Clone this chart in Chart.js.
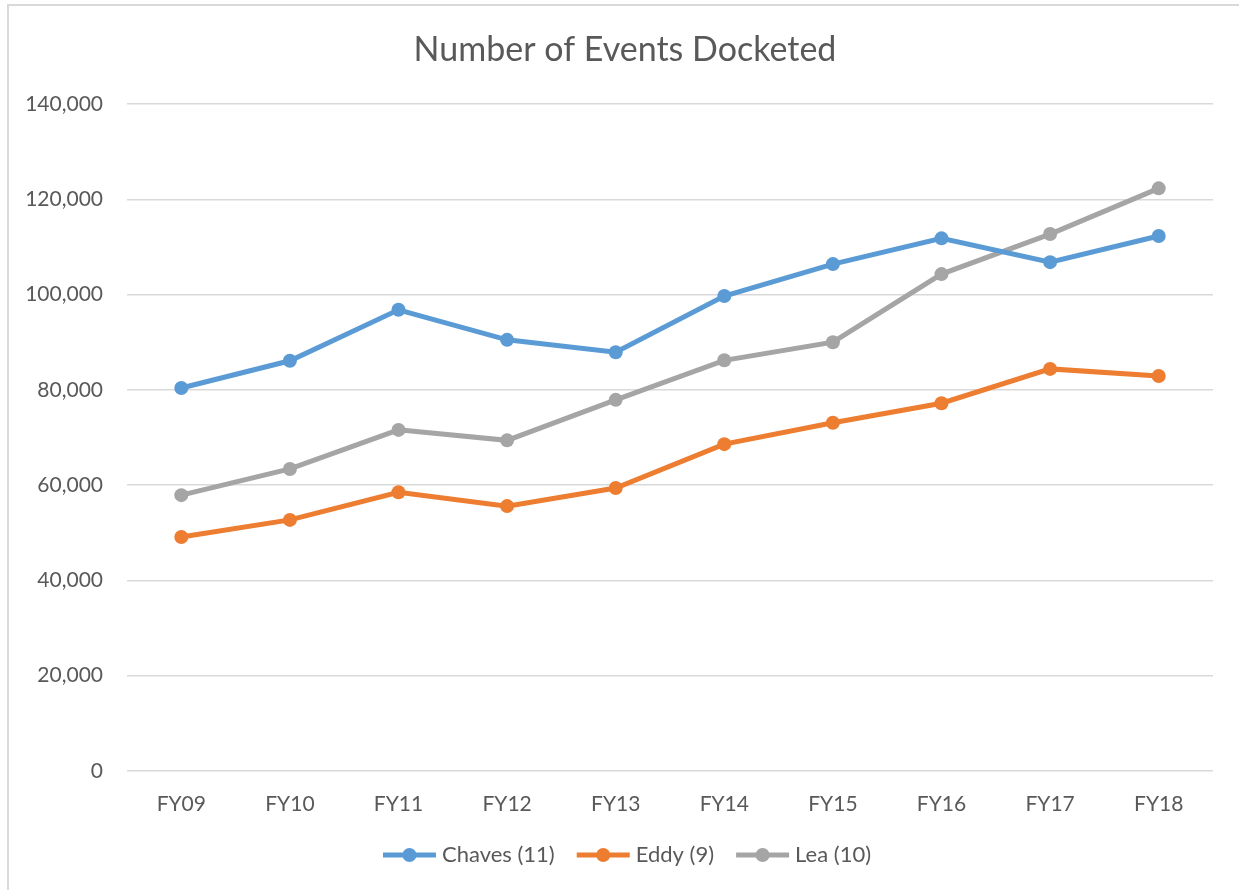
<!DOCTYPE html>
<html>
<head>
<meta charset="utf-8">
<script src="https://cdn.jsdelivr.net/npm/chart.js@4.4.1/dist/chart.umd.min.js"></script>
<style>
  body { margin: 0; background: #fff; }
  #wrap { position: absolute; left: 0; top: 0; width: 1239px; height: 890px; }
  #frame { position: absolute; left: 7px; top: 4px; right: 0; bottom: 0; border-left: 2px solid #d9d9d9; border-top: 2px solid #d9d9d9; pointer-events: none; }
  canvas { position: absolute; left: 0; top: 0; }
</style>
</head>
<body>
<div id="wrap">
  <canvas id="chart" width="1239" height="890"></canvas>
  <div id="frame"></div>
</div>
<script>
const chartTitle = 'Number of Events Docketed';
const years = ['FY09', 'FY10', 'FY11', 'FY12', 'FY13', 'FY14', 'FY15', 'FY16', 'FY17', 'FY18'];
const chaves = [80400, 86100, 96800, 90500, 87900, 99700, 106400, 111800, 106800, 112300];
const eddy = [49100, 52700, 58500, 55600, 59400, 68600, 73100, 77200, 84400, 82900];
const lea = [57900, 63400, 71600, 69400, 77900, 86200, 90000, 104300, 112700, 122300];
const seriesNames = ['Chaves (11)', 'Eddy (9)', 'Lea (10)'];
const seriesColors = ['#5b9bd5', '#ed7d31', '#a5a5a5'];

const textColor = '#595959';
const fontFamily = 'Lato, "Open Sans", sans-serif';

// title and legend drawn by hand so they sit where the office chart puts them
const titleAndLegend = {
    id: 'titleAndLegend',
    afterDraw(chart) {
        const ctx = chart.ctx;
        const sets = chart.data.datasets;
        ctx.save();
        ctx.fillStyle = textColor;
        ctx.font = '34px ' + fontFamily;
        ctx.textAlign = 'center';
        ctx.textBaseline = 'middle';
        ctx.fillText(chartTitle, 625, 50);

        ctx.font = '22px ' + fontFamily;
        ctx.textAlign = 'left';
        const lineW = 53, gapText = 6, gapItem = 22;
        let total = 0;
        const widths = sets.map(ds => ctx.measureText(ds.label).width);
        widths.forEach(w => total += lineW + gapText + w);
        total += gapItem * (sets.length - 1);
        let x = 627 - total / 2;
        const y = 855;
        sets.forEach((ds, i) => {
            ctx.strokeStyle = ds.borderColor;
            ctx.lineWidth = 5;
            ctx.beginPath();
            ctx.moveTo(x, y);
            ctx.lineTo(x + lineW, y);
            ctx.stroke();
            ctx.fillStyle = ds.borderColor;
            ctx.beginPath();
            ctx.arc(x + lineW / 2, y, 7, 0, Math.PI * 2);
            ctx.fill();
            ctx.fillStyle = textColor;
            ctx.fillText(ds.label, x + lineW + gapText, y);
            x += lineW + gapText + widths[i] + gapItem;
        });
        ctx.restore();
    }
};

function makeSet(i, values) {
    return {
        label: seriesNames[i],
        data: values,
        borderColor: seriesColors[i],
        backgroundColor: seriesColors[i],
        borderWidth: 5,
        pointRadius: 7,
        pointHoverRadius: 7,
        pointBorderWidth: 0,
        tension: 0
    };
}

new Chart(document.getElementById('chart'), {
    type: 'line',
    data: {
        labels: years,
        datasets: [makeSet(0, chaves), makeSet(1, eddy), makeSet(2, lea)]
    },
    options: {
        responsive: false,
        animation: false,
        layout: { padding: { left: 0, right: 26, top: 104, bottom: 0 } },
        plugins: {
            legend: { display: false },
            tooltip: { enabled: false },
            title: { display: false }
        },
        scales: {
            x: {
                offset: true,
                grid: { display: false },
                border: { display: false },
                ticks: { color: textColor, font: { family: fontFamily, size: 21 }, padding: 13, maxRotation: 0 },
                afterFit(scale) { scale.height = 119; }
            },
            y: {
                min: 0,
                max: 140000,
                grid: { color: '#d9d9d9', lineWidth: 1.5, drawTicks: false },
                border: { display: false },
                ticks: {
                    stepSize: 20000,
                    color: textColor,
                    padding: 24,
                    font: { family: fontFamily, size: 21 },
                    callback: v => v.toLocaleString('en-US')
                },
                afterFit(scale) { scale.width = 127; }
            }
        }
    },
    plugins: [titleAndLegend]
});
</script>
</body>
</html>
